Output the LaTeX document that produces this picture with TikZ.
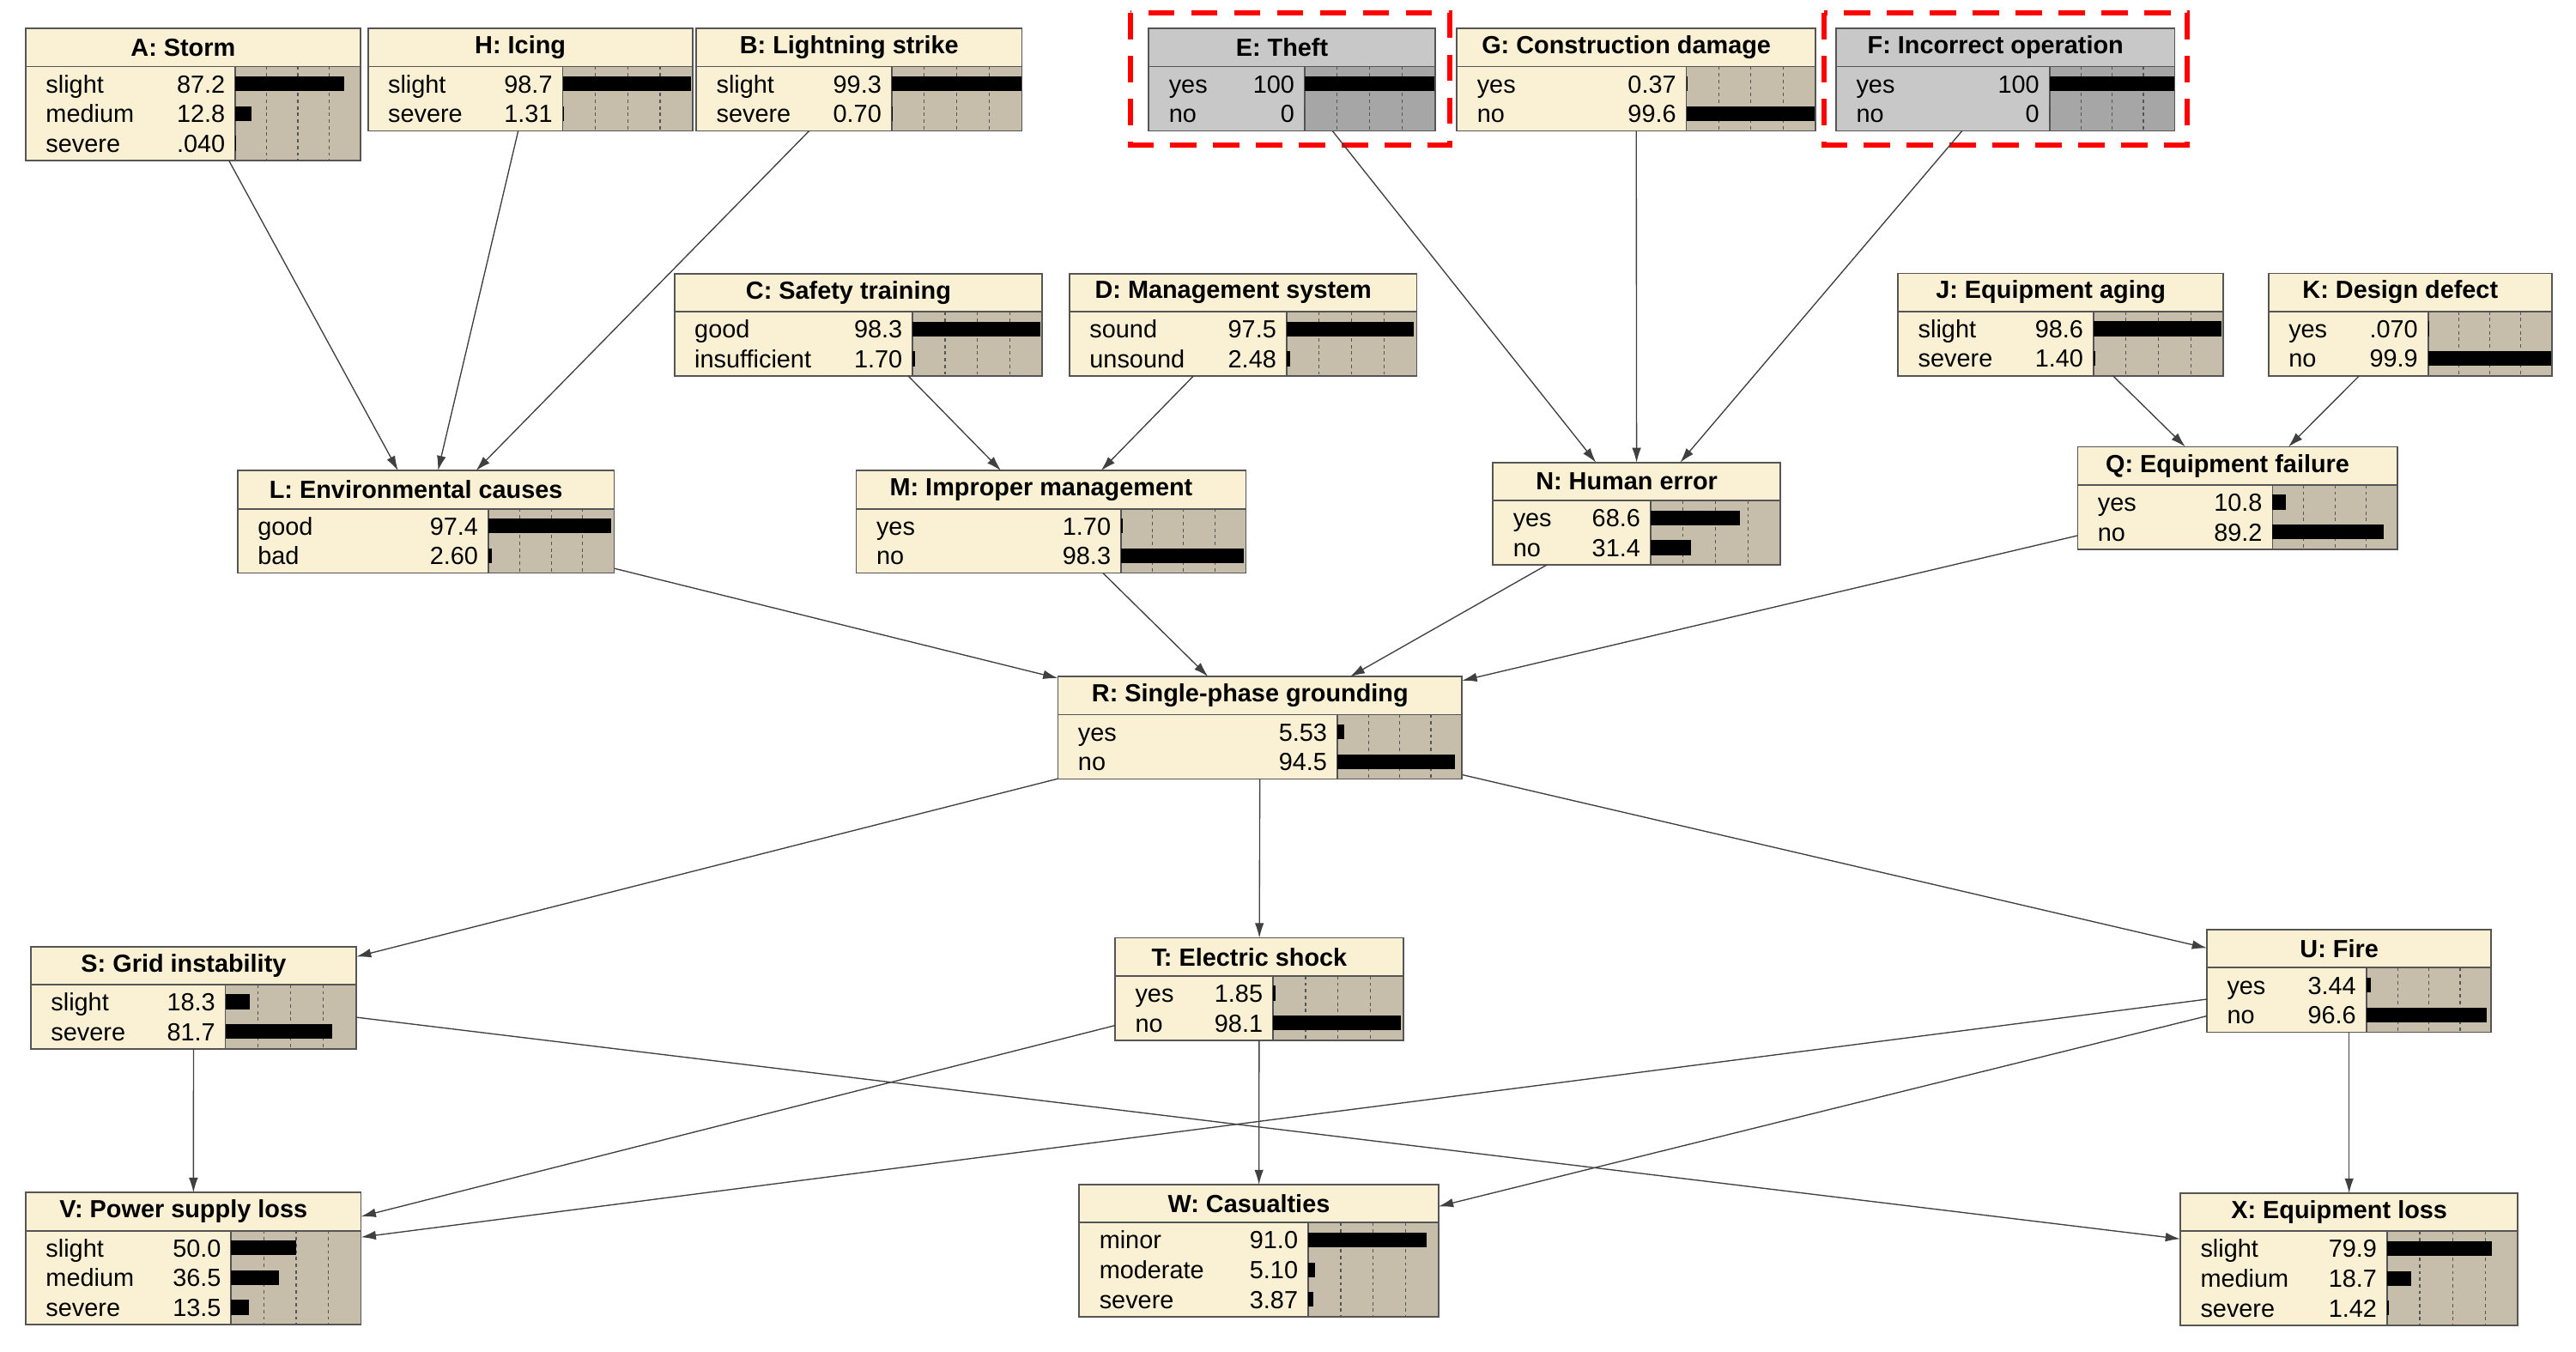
\documentclass[tikz,border=0pt]{standalone}
\usepackage{fontspec}
\setmainfont{Liberation Sans}
\usetikzlibrary{arrows.meta}

\definecolor{bnface}{RGB}{250,240,212}
\definecolor{bnbar}{RGB}{198,190,170}
\definecolor{evface}{RGB}{200,200,200}
\definecolor{evbar}{RGB}{166,166,166}
\definecolor{bnline}{RGB}{85,85,85}

\tikzset{
  bnnode/.style={draw=bnline, line width=0.9pt, rectangle, inner sep=0pt, outer sep=0pt},
  bntitle/.style={inner sep=0pt, font=\fontsize{15}{15}\selectfont\bfseries},
  bnlabel/.style={inner sep=0pt, anchor=base west, font=\fontsize{15}{15}\selectfont},
  bnvalue/.style={inner sep=0pt, anchor=base east, font=\fontsize{15}{15}\selectfont},
  bngrid/.style={draw=bnline, line width=0.6pt, dash pattern=on 2pt off 2pt},
  bnarrow/.style={-{Latex[length=9pt,width=5.5pt]}, line width=0.7pt, black!75},
  evidence/.style={red, line width=3pt, dash pattern=on 16pt off 10pt}
}

\newcommand{\bnbox}[8][bn]{%
  \foreach \bnr [count=\bnk] in {#8} {\xdef\bnrows{\bnk}}
  \pgfmathsetmacro\bnhb{#4+23}
  \pgfmathsetmacro\bnbot{#4+23+18*\bnrows+3}
  \pgfmathsetmacro\bnw{#5-#3}
  \pgfmathsetmacro\bnh{\bnbot-#4}
  \fill[#1face] (#3,#4) rectangle (#5,\bnbot);
  \fill[#1bar] (#6,\bnhb) rectangle (#5,\bnbot);
  \draw[bnline, line width=0.9pt] (#6,\bnhb) -- (#6,\bnbot);
  \draw[bnline, line width=1pt] (#3,\bnhb) -- (#5,\bnhb);
  \foreach \bnq in {0.25,0.5,0.75}
    \draw[bngrid] ({#6+\bnq*(#5-#6)},\bnhb) -- ({#6+\bnq*(#5-#6)},\bnbot);
  \foreach \lab/\val/\pct [count=\bnk] in {#8} {
    \pgfmathsetmacro\bnyc{\bnhb+1.5+18*\bnk-9}
    \node[bnlabel] (#2-l\bnk) at (#3+12,\bnyc+5.4) {\lab};
    \node[bnvalue] (#2-v\bnk) at (#6-6,\bnyc+5.4) {\val};
    \fill (#6,\bnyc-4.5) rectangle ({#6+\pct/100*(#5-#6)},\bnyc+4.5);
  }
  \node[bnnode, minimum width=\bnw pt, minimum height=\bnh pt] (#2) at ({(#3+#5)/2},{(#4+\bnbot)/2}) {};
  \node[bntitle] (#2-t) at ({(#3+#5)/2-6},#4+11.5) {#7};
}

\begin{document}
\begin{tikzpicture}[x=1pt,y=-1pt]
	\fill[white] (0,0) rectangle (1559.8,818.6);
	\useasboundingbox (0,0) rectangle (1559.8,818.6);
	\bnbox{A}{15.6}{17.3}{218.2}{142.5}{A: Storm}{slight/87.2/87.2, medium/12.8/12.8, severe/.040/0.04}
	\bnbox{H}{222.8}{17.3}{419.3}{340.7}{H: Icing}{slight/98.7/98.7, severe/1.31/1.31}
	\bnbox{B}{421.6}{17.3}{618.8}{539.9}{B: Lightning strike}{slight/99.3/99.3, severe/0.70/0.7}
	\bnbox[ev]{E}{695.6}{17.3}{868.9}{790}{E: Theft}{yes/100/100, no/0/0}
	\bnbox{G}{882.2}{17.3}{1099.3}{1021.1}{G: Construction damage}{yes/0.37/0.37, no/99.6/99.6}
	\bnbox[ev]{F}{1111.8}{17.3}{1316.8}{1241}{F: Incorrect operation}{yes/100/100, no/0/0}
	\bnbox{C}{408.4}{165.8}{631.1}{552.6}{C: Safety training}{good/98.3/98.3, insufficient/1.70/1.7}
	\bnbox{D}{647.6}{165.8}{857.9}{779}{D: Management system}{sound/97.5/97.5, unsound/2.48/2.48}
	\bnbox{J}{1149.3}{165.5}{1346.3}{1267.6}{J: Equipment aging}{slight/98.6/98.6, severe/1.40/1.4}
	\bnbox{K}{1373.6}{165.5}{1545.2}{1470.2}{K: Design defect}{yes/.070/0.07, no/99.9/99.9}
	\bnbox{L}{143.9}{285}{371.9}{295.7}{L: Environmental causes}{good/97.4/97.4, bad/2.60/2.6}
	\bnbox{M}{518.5}{285}{754.4}{678.8}{M: Improper management}{yes/1.70/1.7, no/98.3/98.3}
	\bnbox{N}{904}{280.1}{1078}{999.4}{N: Human error}{yes/68.6/68.6, no/31.4/31.4}
	\bnbox{Q}{1258}{270.6}{1451.6}{1376}{Q: Equipment failure}{yes/10.8/10.8, no/89.2/89.2}
	\bnbox{R}{640.6}{409.7}{885.3}{809.7}{R: Single-phase grounding}{yes/5.53/5.53, no/94.5/94.5}
	\bnbox{S}{18.7}{573.1}{215.7}{136.5}{S: Grid instability}{slight/18.3/18.3, severe/81.7/81.7}
	\bnbox{T}{675.2}{567.9}{849.7}{770.8}{T: Electric shock}{yes/1.85/1.85, no/98.1/98.1}
	\bnbox{U}{1336.3}{563}{1508.5}{1432.8}{U: Fire}{yes/3.44/3.44, no/96.6/96.6}
	\bnbox{V}{15.6}{722.1}{218.6}{140}{V: Power supply loss}{slight/50.0/50, medium/36.5/36.5, severe/13.5/13.5}
	\bnbox{W}{653.5}{717.3}{871}{792.1}{W: Casualties}{minor/91.0/91, moderate/5.10/5.1, severe/3.87/3.87}
	\bnbox{X}{1320.2}{722.5}{1524.6}{1445.4}{X: Equipment loss}{slight/79.9/79.9, medium/18.7/18.7, severe/1.42/1.42}
	\draw[evidence] ([shift={(-11,-9.5)}]E.north west) rectangle ([shift={(9,8.5)}]E.south east);
	\draw[evidence] ([shift={(-7.5,-9.5)}]F.north west) rectangle ([shift={(7.5,8.5)}]F.south east);
	\draw[bnarrow] (A) -- (L);
	\draw[bnarrow] (H) -- (L);
	\draw[bnarrow] (B) -- (L);
	\draw[bnarrow] (C) -- (M);
	\draw[bnarrow] (D) -- (M);
	\draw[bnarrow] (E) -- (N);
	\draw[bnarrow] (G) -- (N);
	\draw[bnarrow] (F) -- (N);
	\draw[bnarrow] (J) -- (Q);
	\draw[bnarrow] (K) -- (Q);
	\draw[bnarrow] (L) -- (R);
	\draw[bnarrow] (M) -- (R);
	\draw[bnarrow] (N) -- (R);
	\draw[bnarrow] (Q) -- (R);
	\draw[bnarrow] (R) -- (S);
	\draw[bnarrow] (R) -- (T);
	\draw[bnarrow] (R) -- (U);
	\draw[bnarrow] (S) -- (V);
	\draw[bnarrow] (S) -- (X);
	\draw[bnarrow] (T) -- (V);
	\draw[bnarrow] (T) -- (W);
	\draw[bnarrow] (U) -- (V);
	\draw[bnarrow] (U) -- (W);
	\draw[bnarrow] (U) -- (X);
\end{tikzpicture}
\end{document}
